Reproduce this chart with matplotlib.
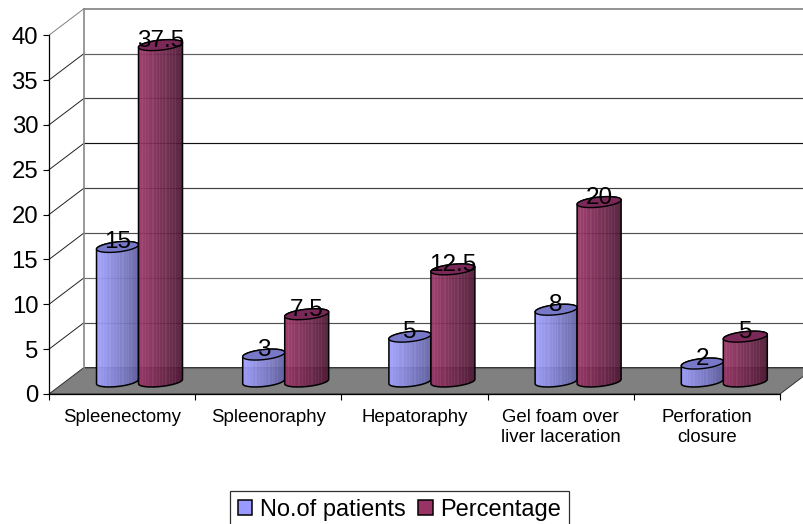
import numpy as np
import matplotlib
matplotlib.use("Agg")
import matplotlib.pyplot as plt
from matplotlib.patches import Patch, Polygon

plt.rcParams["font.family"] = ["Liberation Sans", "DejaVu Sans"]

# Chart data
categories = ["Spleenectomy", "Spleenoraphy", "Hepatoraphy",
              "Gel foam over\nliver laceration", "Perforation\nclosure"]
patients = [15, 3, 5, 8, 2]
percentage = [37.5, 7.5, 12.5, 20, 5]
patient_labels = ["15", "3", "5", "8", "2"]
percentage_labels = ["37.5", "7.5", "12.5", "20", "5"]
y_ticks = [0, 5, 10, 15, 20, 25, 30, 35, 40]

W, H = 804, 524
SLOT_PX = 146.2      # pixels per category slot
UNIT_PX = 8.97       # pixels per value unit
ORIGIN_X, ORIGIN_Y = 49, 394

px = lambda n: n / SLOT_PX
vy = lambda n: n / UNIT_PX

fig = plt.figure(figsize=(W / 100, H / 100), dpi=100, facecolor="white")
ax = fig.add_axes([0, 0, 1, 1])
ax.set_xlim(px(-ORIGIN_X), px(W - ORIGIN_X))
ax.set_ylim(vy(ORIGIN_Y - H), vy(ORIGIN_Y))
ax.set_autoscale_on(False)
ax.patch.set_visible(False)

# Depth of the 3D box
DX, DY = px(35), vy(26.5)
n = len(categories)

# Floor
ax.add_patch(Polygon([(0, 0), (DX, DY), (n + DX, DY), (n, 0)],
                     closed=True, fc="#808080", ec="#303030", lw=0.7, zorder=1))

# Back wall gridlines and their diagonals on the side wall
grid_colors = ["#606060", "#505050", "#707070", "#505050", "#404040",
               "#101010", "#404040", "#606060", "#808080"]
for tick, col in zip(y_ticks, grid_colors):
    lw = 1.2 if tick == 40 else 0.85
    ax.plot([DX, n + DX], [tick + DY, tick + DY], color=col, lw=lw, zorder=2)
    if tick > 0:
        diag = "#808080" if tick == 40 else "#202020"
        ax.plot([0, DX], [tick, tick + DY], color=diag, lw=0.7, zorder=2)
ax.plot([DX, DX], [DY, 40 + DY], color="#888888", lw=1.2, zorder=2)

# Cylinders
STRIPE_COLS = 44
ripple = np.zeros(STRIPE_COLS)
ripple[[3, 6, 9, 13, 14, 17, 20, 23, 26, 27, 30, 33, 36]] = 0.06


def side_texture(left, right):
    shade = np.linspace(0, 1, STRIPE_COLS)[:, None]
    tex = np.array(left) * (1 - shade) + np.array(right) * shade
    tex = tex + ripple[:, None] * (1 - tex)
    return tex[None, :, :]


def ellipse(cx, cy, half_w):
    t = np.linspace(0, 2 * np.pi, 80)
    x = cx + half_w * np.cos(t)
    y = cy + vy(5.0) * np.sin(t) + vy(2.2) * np.cos(t)
    return t, np.column_stack([x, y])


def cylinder(x, value, half_w, left, right, top, z):
    base = vy(12.5)
    t, base_pts = ellipse(x, base, half_w)
    _, top_pts = ellipse(x, base + value, half_w)
    lower = base_pts[(t >= np.pi) & (t <= 2 * np.pi)]
    upper = top_pts[(t >= 0) & (t <= np.pi)]
    outline = np.vstack([lower, upper])
    body = Polygon(outline, closed=True, fc="none", ec="black", lw=1.1, zorder=z + 0.2)
    ax.add_patch(body)
    im = ax.imshow(side_texture(left, right), aspect="auto", interpolation="nearest",
                   extent=(x - half_w, x + half_w, base - 1, base + value + 1),
                   alpha=0.93, zorder=z)
    im.set_clip_path(body)
    ax.add_patch(Polygon(top_pts, closed=True, fc=top, ec="black", lw=1.0, zorder=z + 0.3))


BLUE_OFF, RED_OFF = px(68.5), px(111.5)
for i, (a, b) in enumerate(zip(patients, percentage)):
    cylinder(i + BLUE_OFF, a, px(21), (0.62, 0.62, 1.0), (0.38, 0.38, 0.64),
             "#7878c8", 3 + i)
    cylinder(i + RED_OFF, b, px(22), (0.60, 0.20, 0.40), (0.30, 0.09, 0.20),
             "#7a2858", 3.5 + i)

# Value labels sit on the cylinder tops
for i, (a, b) in enumerate(zip(patients, percentage)):
    for off, v, s in ((BLUE_OFF, a, patient_labels[i]), (RED_OFF, b, percentage_labels[i])):
        ax.text(i + off, v + vy(12.5) + vy(4.5), s, ha="center", va="center",
                fontsize=17.5, color="black", zorder=20)

# Axes: left spine with value ticks, bottom spine with slot boundaries
for side in ("top", "right"):
    ax.spines[side].set_visible(False)
ax.spines["left"].set_position(("data", 0))
ax.spines["left"].set_bounds(0, 40)
ax.spines["bottom"].set_position(("data", 0))
ax.spines["bottom"].set_bounds(0, n)
for side in ("left", "bottom"):
    ax.spines[side].set_linewidth(0.9)
    ax.spines[side].set_zorder(15)

ax.set_yticks(y_ticks)
ax.tick_params(axis="y", length=4.3, width=0.8, pad=3.5, labelsize=17.2)
ax.set_xticks(np.arange(n + 1))
ax.set_xticklabels([])
ax.set_xticks(np.arange(n) + 0.5, minor=True)
ax.set_xticklabels(categories, minor=True, fontsize=13.4, linespacing=1.28)
ax.tick_params(axis="x", which="major", length=4.3, width=0.8)
ax.tick_params(axis="x", which="minor", length=0, pad=10.5)

# Legend
handles = [Patch(fc="#9999ff", ec="black", lw=1.1, label="No.of patients"),
           Patch(fc="#993366", ec="black", lw=1.1, label="Percentage")]
leg = ax.legend(handles=handles, loc="upper left", bbox_to_anchor=(230 / W, 1 - 491 / H),
                bbox_transform=fig.transFigure, ncol=2, fontsize=17.0, fancybox=False,
                framealpha=1, edgecolor="#303030", borderaxespad=0, borderpad=0.32,
                handlelength=0.63, handleheight=0.63, handletextpad=0.33, columnspacing=0.5)
leg.get_frame().set_linewidth(0.9)
leg.set_zorder(25)

fig.savefig("out.png", dpi=100)
